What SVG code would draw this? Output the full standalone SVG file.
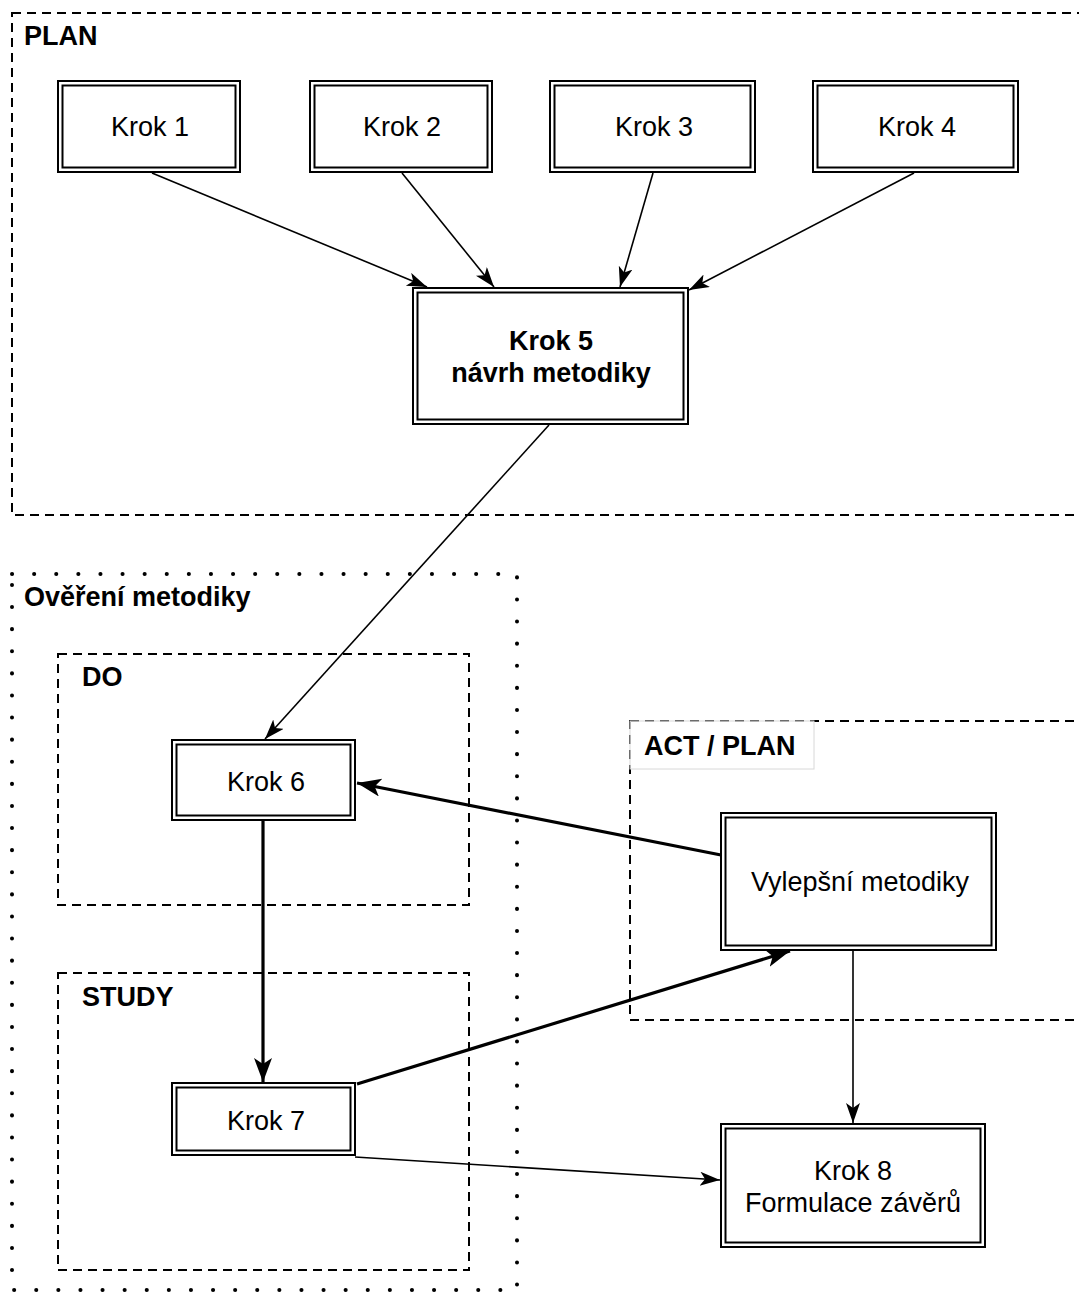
<svg xmlns="http://www.w3.org/2000/svg" width="1079" height="1293" viewBox="0 0 1079 1293">
  <defs>
    <style>
      .lbl { font-family: "Liberation Sans", Arial, sans-serif; font-size: 27px; fill: #000; text-anchor: middle; }
      .bold { font-weight: bold; }
      .title { font-family: "Liberation Sans", Arial, sans-serif; font-size: 27px; font-weight: bold; fill: #000; }
      .dashed { fill: none; stroke: #000; stroke-width: 2; stroke-dasharray: 9 6; }
      .dotted { fill: none; stroke: #000; stroke-width: 4; stroke-dasharray: 0.1 22; stroke-linecap: round; }
      .outer { fill: #fff; stroke: #000; stroke-width: 2; }
      .inner { fill: none; stroke: #000; stroke-width: 2; }
      .thin { fill: none; stroke: #000; stroke-width: 1.6; marker-end: url(#arrowThin); }
      .thick { fill: none; stroke: #000; stroke-width: 3.2; marker-end: url(#arrowThick); }
    </style>
    <marker id="arrowThin" markerUnits="userSpaceOnUse" markerWidth="22" markerHeight="16" refX="20" refY="7" orient="auto">
      <path d="M0,0 L20,7 L0,14 L5,7 Z" fill="#000"/>
    </marker>
    <marker id="arrowThick" markerUnits="userSpaceOnUse" markerWidth="26" markerHeight="20" refX="24" refY="9" orient="auto">
      <path d="M0,0 L24,9 L0,18 L6,9 Z" fill="#000"/>
    </marker>
  </defs>
  <rect width="1079" height="1293" fill="#fff"/>

  <!-- containers -->
  <g id="container-plan">
    <rect class="dashed" x="12" y="13" width="1090" height="502"/>
    <text class="title" x="24" y="45">PLAN</text>
  </g>
  <g id="container-overeni">
    <rect class="dotted" x="12" y="574" width="505" height="716"/>
    <text class="title" x="24" y="606">Ověření metodiky</text>
  </g>
  <g id="container-do">
    <rect class="dashed" x="58" y="654" width="411" height="251"/>
    <text class="title" x="82" y="686">DO</text>
  </g>
  <g id="container-study">
    <rect class="dashed" x="58" y="973" width="411" height="297"/>
    <text class="title" x="82" y="1006">STUDY</text>
  </g>
  <g id="container-act">
    <rect class="dashed" x="630" y="721" width="470" height="299"/>
    <rect x="630" y="721" width="184" height="48" fill="#fff" fill-opacity="0.55" stroke="#d8d8d8" stroke-width="1"/>
    <text class="title" x="644" y="755">ACT / PLAN</text>
  </g>

  <!-- connectors -->
  <g id="connectors">
    <line class="thin" x1="152" y1="173" x2="427" y2="287"/>
    <line class="thin" x1="402" y1="173" x2="494" y2="287"/>
    <line class="thin" x1="653" y1="173" x2="620" y2="287"/>
    <line class="thin" x1="914" y1="173" x2="689" y2="290"/>
    <line class="thin" x1="549" y1="425" x2="265" y2="739"/>
    <line class="thick" x1="721" y1="855" x2="357" y2="783"/>
    <line class="thick" x1="263" y1="821" x2="263" y2="1082"/>
    <line class="thick" x1="357" y1="1084" x2="790" y2="951"/>
    <line class="thin" x1="853" y1="951" x2="853" y2="1123"/>
    <line class="thin" x1="355" y1="1157" x2="720" y2="1180"/>
  </g>

  <!-- nodes -->
  <g id="krok1">
    <rect class="outer" x="58" y="81" width="182" height="91"/>
    <rect class="inner" x="62.5" y="85.5" width="173" height="82"/>
    <text class="lbl" x="150" y="136">Krok 1</text>
  </g>
  <g id="krok2">
    <rect class="outer" x="310" y="81" width="182" height="91"/>
    <rect class="inner" x="314.5" y="85.5" width="173" height="82"/>
    <text class="lbl" x="402" y="136">Krok 2</text>
  </g>
  <g id="krok3">
    <rect class="outer" x="550" y="81" width="205" height="91"/>
    <rect class="inner" x="554.5" y="85.5" width="196" height="82"/>
    <text class="lbl" x="654" y="136">Krok 3</text>
  </g>
  <g id="krok4">
    <rect class="outer" x="813" y="81" width="205" height="91"/>
    <rect class="inner" x="817.5" y="85.5" width="196" height="82"/>
    <text class="lbl" x="917" y="136">Krok 4</text>
  </g>
  <g id="krok5">
    <rect class="outer" x="413" y="288" width="275" height="136"/>
    <rect class="inner" x="417.5" y="292.5" width="266" height="127"/>
    <text class="lbl bold" x="551" y="350">Krok 5</text>
    <text class="lbl bold" x="551" y="382">návrh metodiky</text>
  </g>
  <g id="krok6">
    <rect class="outer" x="172" y="740" width="183" height="80"/>
    <rect class="inner" x="176.5" y="744.5" width="174" height="71"/>
    <text class="lbl" x="266" y="791">Krok 6</text>
  </g>
  <g id="vylepseni">
    <rect class="outer" x="721" y="813" width="275" height="137"/>
    <rect class="inner" x="725.5" y="817.5" width="266" height="128"/>
    <text class="lbl" x="860" y="891">Vylepšní metodiky</text>
  </g>
  <g id="krok7">
    <rect class="outer" x="172" y="1083" width="183" height="72"/>
    <rect class="inner" x="176.5" y="1087.5" width="174" height="63"/>
    <text class="lbl" x="266" y="1130">Krok 7</text>
  </g>
  <g id="krok8">
    <rect class="outer" x="721" y="1124" width="264" height="123"/>
    <rect class="inner" x="725.5" y="1128.5" width="255" height="114"/>
    <text class="lbl" x="853" y="1180">Krok 8</text>
    <text class="lbl" x="853" y="1212">Formulace závěrů</text>
  </g>
</svg>
